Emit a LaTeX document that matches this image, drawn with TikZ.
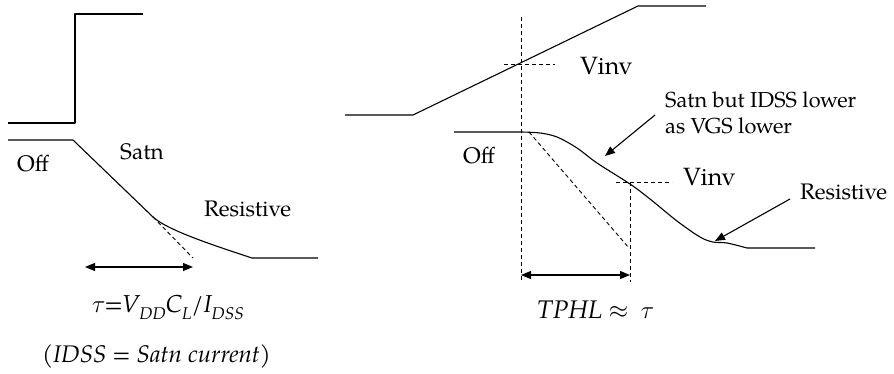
\documentclass[tikz,border=0pt]{standalone}
\usepackage{fontspec}
\setmainfont{TeX Gyre Pagella}
\usetikzlibrary{arrows.meta}
\newcommand{\lowsub}[1]{\raisebox{-0.32em}{\fontsize{17}{19}\selectfont #1}}
\begin{document}
\begin{tikzpicture}[x=1pt,y=-1pt,
  wave/.style={line width=1.1pt, line join=round},
  guide/.style={dash pattern=on 4pt off 3pt, line width=0.9pt},
  dimarrow/.style={line width=1.1pt, {Triangle[length=10pt,width=8pt]}-{Triangle[length=10pt,width=8pt]}},
  callout/.style={line width=1.1pt, -{Triangle[length=10pt,width=8pt]}},
  lbl/.style={inner sep=0pt, anchor=base west, font=\fontsize{22.5}{26}\selectfont},
  clbl/.style={lbl, font=\fontsize{21.7}{26}\selectfont},
  vlbl/.style={lbl, font=\fontsize{25}{28}\selectfont},
  ilbl/.style={lbl, font=\fontsize{24.5}{30}\selectfont\itshape}]
\useasboundingbox (0,0) rectangle (894,373);

% ---------- left panel ----------
\draw[wave] (8,123) -- (75,123) -- (75,14) -- (143,14);
\coordinate (lk) at (153,217);
\coordinate (le) at (193,258);
\draw[wave] (8,140) -- (73,140) -- (lk) .. controls (168,231) and (222,248) .. (252,258) -- (318,258);
\draw[guide] (lk) -- (le);
\coordinate (la) at (85,267);
\coordinate (lb) at (193,267);
\draw[dimarrow] (la) -- (lb);

\node[lbl] (offL) at (17,171) {Off};
\node[lbl] (satnL) at (120,159) {Satn};
\node[lbl] (resL) at (204,216) {Resistive};
\node[ilbl] (tau) at (92,312) {$\tau$\kern-0.05em=\kern-0.05em V\lowsub{DD}C\lowsub{L}/I\lowsub{DSS}};
\node[ilbl, font=\fontsize{24}{30}\selectfont\itshape] (idss) at (42,362) {(IDSS = Satn current)};

% ---------- right panel ----------
\draw[wave] (345,115) -- (413,115) -- (638,6) -- (706,6);
\coordinate (v1t) at (521,17);
\coordinate (v1b) at (521,282);
\draw[guide] (v1t) -- (v1b);
\draw[guide] (504,64) -- (555,64);
\draw[wave] (454,132) -- (521,132) -- plot[smooth, tension=0.55] coordinates {(521,132) (540,133) (557,137) (577,148) (597,163) (630,184) (650,199) (677,221) (700,237) (713,242) (727,243) (747,248)} -- (815,248);
\coordinate (dA) at (529,132);
\coordinate (dB) at (629,248);
\draw[guide] (dA) -- (dB);
\coordinate (v2t) at (630,182);
\coordinate (v2b) at (630,282);
\draw[guide] (v2t) -- (v2b);
\draw[guide] (616,182) -- (672,182);
\coordinate (ta) at (521,275);
\coordinate (tb) at (630,275);
\draw[dimarrow] (ta) -- (tb);

\node[vlbl] (vinv1) at (580,74) {Vinv};
\node[vlbl] (vinv2) at (683,185) {Vinv};
\node[lbl] (offR) at (463,163) {Off};
\node[clbl, align=left, anchor=north west] (satnR) at (665,92) {Satn but IDSS lower\\as VGS lower};
\node[lbl] (resR) at (800,199) {Resistive};
\node[ilbl, font=\fontsize{25.5}{30}\selectfont\itshape] (tphl) at (537,318) {TPHL $\approx$ \ $\tau$};

\coordinate (s1) at (655,115);
\coordinate (s2) at (605,156);
\draw[callout] (s1) -- (s2);
\coordinate (r1) at (790,199);
\coordinate (r2) at (715,241);
\draw[callout] (r1) -- (r2);
\end{tikzpicture}
\end{document}
